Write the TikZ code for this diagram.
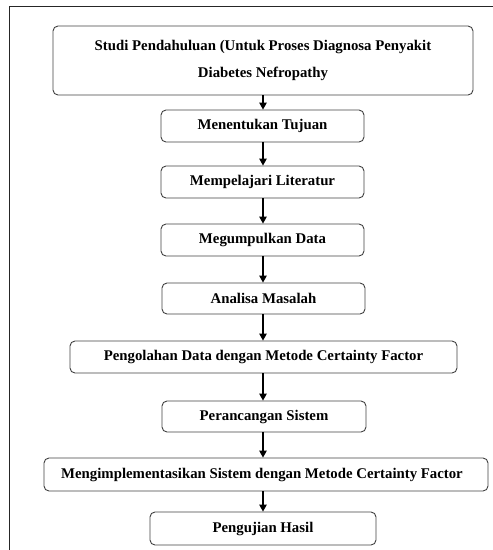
\documentclass[tikz,border=0pt]{standalone}
\usepackage{fontspec}
\setmainfont{Liberation Serif}
\usetikzlibrary{arrows.meta}
\begin{document}
\begin{tikzpicture}[x=1pt,y=-1pt,
  stepbox/.style={draw=black!75,line width=0.9pt,rounded corners=5pt,inner sep=0pt,
    font=\fontsize{14.8}{27}\selectfont\bfseries,align=center},
  arr/.style={line width=1.1pt,-{Triangle[length=7pt,width=7.5pt]}}]
\useasboundingbox (0,0) rectangle (493,550);
\draw[line width=1pt,black!85] (9,550) -- (9,6) -- (493,6);
\coordinate (ax) at (263,0);
\node[stepbox,minimum width=420pt,minimum height=69pt] (b1) at (263,60.5)
  {Studi Pendahuluan (Untuk Proses Diagnosa Penyakit\\Diabetes Nefropathy};
\node[stepbox,minimum width=203pt,minimum height=32pt] (b2) at (262.5,126) {Menentukan Tujuan};
\node[stepbox,minimum width=203pt,minimum height=32pt] (b3) at (262.5,182) {Mempelajari Literatur};
\node[stepbox,minimum width=203pt,minimum height=32pt] (b4) at (262.5,240) {Megumpulkan Data};
\node[stepbox,minimum width=203pt,minimum height=31pt] (b5) at (263.5,298.5) {Analisa Masalah};
\node[stepbox,minimum width=387pt,minimum height=32pt] (b6) at (263.5,357) {Pengolahan Data dengan Metode Certainty Factor};
\node[stepbox,minimum width=204pt,minimum height=31pt] (b7) at (264,416.5) {Perancangan Sistem};
\node[stepbox,minimum width=444pt,minimum height=33pt] (b8) at (266,474.5) {Mengimplementasikan Sistem dengan Metode Certainty Factor\hspace*{8pt}};
\node[stepbox,minimum width=226pt,minimum height=33pt] (b9) at (263,528.5) {Pengujian Hasil};
\foreach \a/\b in {b1/b2,b2/b3,b3/b4,b4/b5,b5/b6,b6/b7,b7/b8,b8/b9}
  \draw[arr] (\a.south -| ax) -- (\b.north -| ax);
\end{tikzpicture}
\end{document}
